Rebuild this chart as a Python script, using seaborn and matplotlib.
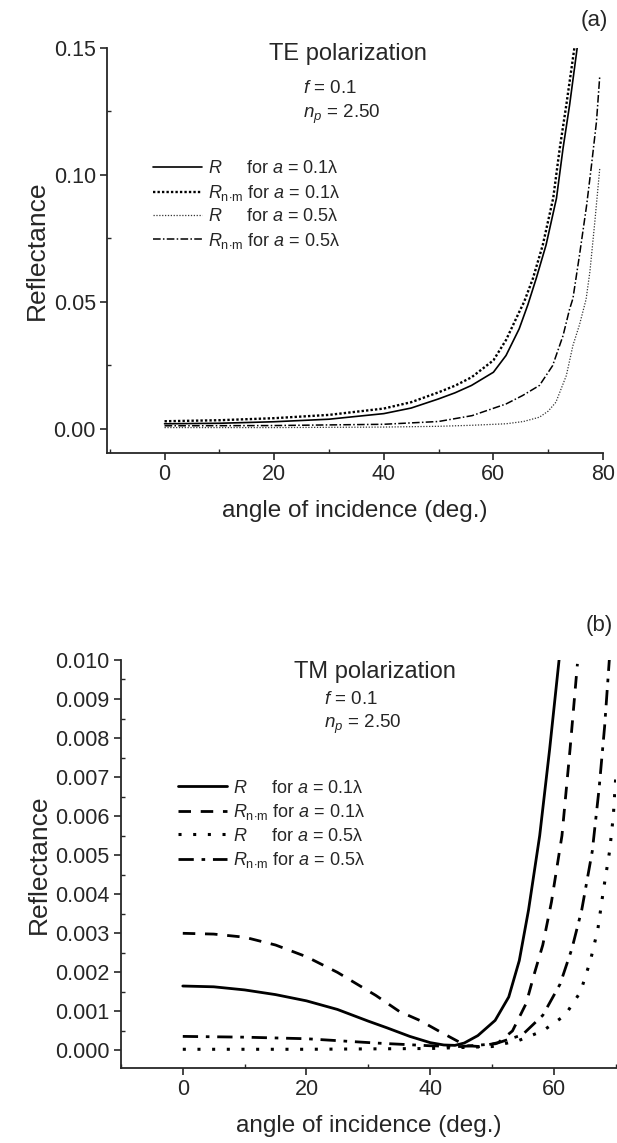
import numpy as np
import pandas as pd
import matplotlib
matplotlib.use("Agg")
import matplotlib.pyplot as plt
from matplotlib.ticker import MultipleLocator
import seaborn as sns

# ==== data ====
# (a) TE polarization
te_R01_x = [0, 10, 20, 30, 40, 45, 50, 53, 56, 60, 62.3, 64.7, 66.3, 67.8, 69.6, 71.5, 72.7, 73.9, 75.4]
te_R01_y = [0.0020, 0.0022, 0.0028, 0.0038, 0.0060, 0.0082, 0.0118, 0.0142, 0.0171, 0.0223, 0.0289,
            0.0394, 0.0490, 0.0592, 0.0724, 0.0908, 0.1105, 0.1276, 0.1520]
te_Rnm01_x = [0, 10, 20, 30, 40, 45, 50, 53, 56, 60, 62.3, 64.7, 65.6, 67.2, 69.0, 70.9, 72.1, 73.3, 74.9]
te_Rnm01_y = [0.0030, 0.0034, 0.0042, 0.0055, 0.0080, 0.0105, 0.0144, 0.0170, 0.0203, 0.0270, 0.0350,
              0.0460, 0.0500, 0.0592, 0.0724, 0.0908, 0.1105, 0.1276, 0.1520]
te_R05_x = [0, 20, 40, 50, 56, 62.3, 65.5, 68.4, 70, 71.4, 73.3, 74.5, 75.7, 76.9, 77.6, 78.5, 79.4]
te_R05_y = [0.0005, 0.0005, 0.0007, 0.0010, 0.0014, 0.0020, 0.0029, 0.0046, 0.0070, 0.0105, 0.0210,
            0.0328, 0.0410, 0.0510, 0.0619, 0.0816, 0.1026]
te_Rnm05_x = [0, 20, 40, 50, 56.1, 62.3, 65.3, 68.4, 70.8, 72.7, 73.9, 74.5, 75.7, 77.0, 77.9, 78.8, 79.4]
te_Rnm05_y = [0.0012, 0.0013, 0.0018, 0.0029, 0.0052, 0.0098, 0.0131, 0.0171, 0.0249, 0.0367, 0.0472,
              0.0513, 0.0684, 0.0880, 0.1040, 0.1210, 0.1390]

# (b) TM polarization
tm_R01_x = [0, 5, 10, 15, 20, 25, 30, 33, 36.7, 40, 42.2, 44, 45.5, 47.7, 50.5, 52.7, 54.4, 55.9,
            57.7, 59.3, 60.9]
tm_R01_y = [0.00165, 0.00163, 0.00155, 0.00143, 0.00127, 0.00105, 0.00075, 0.00058, 0.00036, 0.00020,
            0.00014, 0.00013, 0.00019, 0.00038, 0.00077, 0.00137, 0.00230, 0.00360, 0.00550, 0.00770,
            0.01010]
tm_Rnm01_x = [0, 5, 10, 15, 20, 25, 31.2, 35, 38.3, 41.7, 44.4, 46, 48, 51, 53.3, 55.5, 56.9, 58.2,
              59.6, 61.3, 62.6, 63.8]
tm_Rnm01_y = [0.00300, 0.00298, 0.00290, 0.00270, 0.00240, 0.00200, 0.00141, 0.00100, 0.00077, 0.00047,
              0.00024, 0.00012, 0.00010, 0.00020, 0.00050, 0.00120, 0.00200, 0.00270, 0.00380, 0.00550,
              0.00770, 0.00990]
tm_R05_x = [0, 20, 40, 50, 54.4, 58.2, 61.8, 64.3, 65.9, 67.1, 68.0, 69.0, 69.6, 70.0]
tm_R05_y = [0.00003, 0.00003, 0.00005, 0.00010, 0.00026, 0.00050, 0.00090, 0.00150, 0.00230, 0.00310,
            0.00410, 0.00510, 0.00600, 0.00700]
tm_Rnm05_x = [0, 10, 20, 31.2, 40, 45, 50.5, 54.9, 58.2, 61, 62.9, 64.5, 66.2, 67.3, 68.2, 69.0]
tm_Rnm05_y = [0.00036, 0.00034, 0.00030, 0.00019, 0.00012, 0.00010, 0.00017, 0.00040, 0.00090, 0.00170,
              0.00260, 0.00360, 0.00510, 0.00670, 0.00830, 0.01010]

labels = [r"$R$     for $a$ = 0.1λ",
          r"$R_{\mathrm{n{\cdot}m}}$ for $a$ = 0.1λ",
          r"$R$     for $a$ = 0.5λ",
          r"$R_{\mathrm{n{\cdot}m}}$ for $a$ = 0.5λ"]

sns.set_style("ticks")
plt.rcParams['font.family'] = ['Liberation Sans', 'DejaVu Sans']
plt.rcParams['mathtext.fontset'] = 'custom'
plt.rcParams['mathtext.rm'] = 'Liberation Sans'
plt.rcParams['mathtext.it'] = 'Liberation Sans:italic'
plt.rcParams['axes.linewidth'] = 1.3

fig = plt.figure(figsize=(6.17, 11.43), dpi=100)
ax1 = fig.add_axes([0.1734, 0.6037, 0.804, 0.3543])
ax2 = fig.add_axes([0.196, 0.0656, 0.802, 0.357])


def draw(ax, xs, ys, ls, lw, color, label):
    sns.lineplot(x=xs, y=ys, ax=ax, color=color, lw=lw, label=label, sort=False)
    ax.lines[-1].set_linestyle(ls)


# ---- (a) TE ----
draw(ax1, te_R01_x, te_R01_y, '-', 1.2, 'black', labels[0])
draw(ax1, te_Rnm01_x, te_Rnm01_y, (0, (1.0, 0.9)), 1.7, 'black', labels[1])
draw(ax1, te_R05_x, te_R05_y, (0, (1, 1.3)), 0.9, '#333333', labels[2])
draw(ax1, te_Rnm05_x, te_Rnm05_y, (0, (5, 1.5, 1, 1.5)), 1.1, 'black', labels[3])

ax1.set_xlim(-10.5, 80)
ax1.set_ylim(-0.0095, 0.15)
ax1.xaxis.set_major_locator(MultipleLocator(20))
ax1.xaxis.set_minor_locator(MultipleLocator(10))
ax1.yaxis.set_major_locator(MultipleLocator(0.05))
ax1.yaxis.set_minor_locator(MultipleLocator(0.025))
ax1.yaxis.set_major_formatter(plt.FuncFormatter(lambda v, p: f"{v:.2f}"))
ax1.text(0.485, 0.985, "TE polarization", transform=ax1.transAxes, ha='center', va='center', fontsize=17)
ax1.text(0.395, 0.90, r"$f$ = 0.1", transform=ax1.transAxes, ha='left', va='center', fontsize=13.5)
ax1.text(0.395, 0.835, r"$n_p$ = 2.50", transform=ax1.transAxes, ha='left', va='center', fontsize=13.5)
ax1.legend(loc='center left', bbox_to_anchor=(0.075, 0.611), frameon=False, fontsize=13,
           handlelength=2.7, handletextpad=0.35, labelspacing=0.3, borderpad=0)

# ---- (b) TM ----
draw(ax2, tm_R01_x, tm_R01_y, '-', 2.0, 'black', labels[0])
draw(ax2, tm_Rnm01_x, tm_Rnm01_y, (0, (4.5, 3.5)), 2.0, 'black', labels[1])
draw(ax2, tm_R05_x, tm_R05_y, (0, (1, 3.8)), 2.2, 'black', labels[2])
draw(ax2, tm_Rnm05_x, tm_Rnm05_y, (0, (5.5, 2.8, 1.3, 2.8)), 2.0, 'black', labels[3])

ax2.set_xlim(-10, 70)
ax2.set_ylim(-0.00045, 0.010)
ax2.xaxis.set_major_locator(MultipleLocator(20))
ax2.xaxis.set_minor_locator(MultipleLocator(10))
ax2.yaxis.set_major_locator(MultipleLocator(0.001))
ax2.yaxis.set_minor_locator(MultipleLocator(0.0005))
ax2.yaxis.set_major_formatter(plt.FuncFormatter(lambda v, p: f"{v:.3f}"))
ax2.text(0.513, 0.971, "TM polarization", transform=ax2.transAxes, ha='center', va='center', fontsize=17)
ax2.text(0.41, 0.902, r"$f$ = 0.1", transform=ax2.transAxes, ha='left', va='center', fontsize=13.5)
ax2.text(0.41, 0.843, r"$n_p$ = 2.50", transform=ax2.transAxes, ha='left', va='center', fontsize=13.5)
ax2.legend(loc='center left', bbox_to_anchor=(0.097, 0.596), frameon=False, fontsize=13,
           handlelength=2.7, handletextpad=0.35, labelspacing=0.3, borderpad=0)

for ax in (ax1, ax2):
    sns.despine(ax=ax)
    ax.set_xlabel("angle of incidence (deg.)", fontsize=17.5, labelpad=11)
    ax.set_ylabel("Reflectance", fontsize=19, labelpad=3)
    ax.tick_params(axis='both', which='major', direction='out', length=5, width=1.2, labelsize=15.5, pad=3)
    ax.tick_params(axis='both', which='minor', direction='in', length=3, width=1.0)

fig.text(0.963, 0.9825, "(a)", ha='center', va='center', fontsize=16)
fig.text(0.972, 0.453, "(b)", ha='center', va='center', fontsize=16)

fig.savefig("out.png", dpi=100)
